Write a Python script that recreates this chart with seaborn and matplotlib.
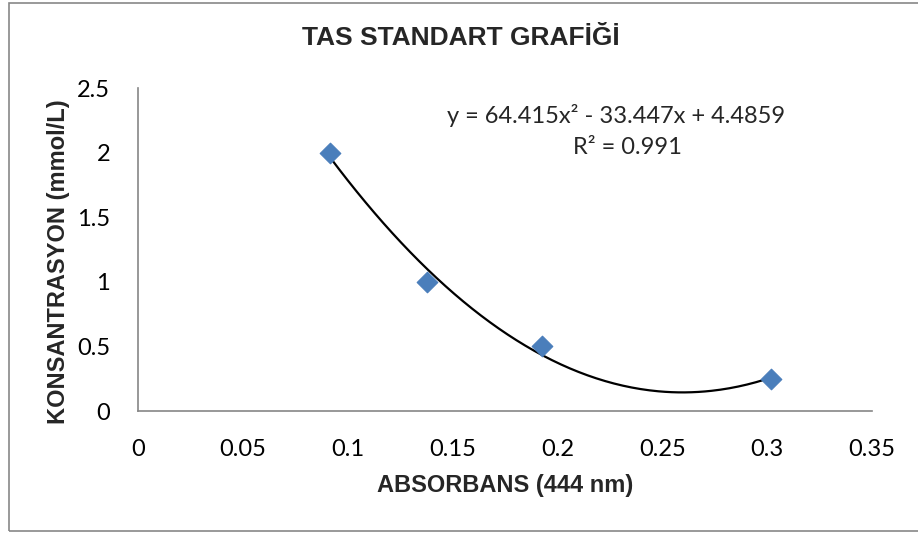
import numpy as np
import pandas as pd
import matplotlib.pyplot as plt
import seaborn as sns
from matplotlib.patches import Rectangle

# data
absorbance = [0.0916, 0.138, 0.1926, 0.302]
concentration = [2.0, 1.0, 0.5, 0.25]
coefs = [64.415, -33.447, 4.4859]  # trendline from the chart's equation
x_ticks = [0, 0.05, 0.1, 0.15, 0.2, 0.25, 0.3, 0.35]
y_ticks = [0, 0.5, 1, 1.5, 2, 2.5]
x_tick_labels = ['0', '0.05', '0.1', '0.15', '0.2', '0.25', '0.3', '0.35']
y_tick_labels = ['0', '0.5', '1', '1.5', '2', '2.5']

df = pd.DataFrame({'absorbans': absorbance, 'konsantrasyon': concentration})
xs = np.linspace(min(absorbance), max(absorbance), 200)
fit_df = pd.DataFrame({'x': xs, 'y': np.polyval(coefs, xs)})

sns.set_style('white')
plt.rcParams['font.family'] = ['Lato', 'DejaVu Sans']

fig = plt.figure(figsize=(9.18, 5.34), dpi=100)
ax = fig.add_axes([0.1503, 0.2303, 0.7997, 0.6049])

# outer chart border (right edge runs off the picture)
fig.patches.append(Rectangle((9 / 918, 3 / 534), 912 / 918, 528 / 534, transform=fig.transFigure,
                             fill=False, edgecolor='#878787', linewidth=1.2))

sns.lineplot(data=fit_df, x='x', y='y', color='black', linewidth=1.6, ax=ax)
sns.scatterplot(data=df, x='absorbans', y='konsantrasyon', marker='D', s=110,
                color='#4A7EBB', edgecolor='#4A7EBB', ax=ax, zorder=3)

ax.set_xlim(0, 0.35)
ax.set_ylim(0, 2.5)
ax.set_xticks(x_ticks)
ax.set_xticklabels(x_tick_labels)
ax.set_yticks(y_ticks)
ax.set_yticklabels(y_tick_labels)
ax.tick_params(axis='x', length=0, labelsize=17, colors='black', pad=20)
ax.tick_params(axis='y', length=0, labelsize=17, colors='black', pad=20)

for side in ['top', 'right']:
    ax.spines[side].set_visible(False)
for side in ['left', 'bottom']:
    ax.spines[side].set_color('#868686')
    ax.spines[side].set_linewidth(1.2)

ax.set_xlabel('ABSORBANS (444 nm)', fontsize=17, fontweight='bold', family='Liberation Sans', labelpad=10)
ax.set_ylabel('')
fig.text(0.0632, 0.5094, 'KONSANTRASYON (mmol/L)', rotation=90, ha='center', va='center',
         fontsize=17, fontweight='bold', family='Liberation Sans')

fig.text(0.5016, 0.929, 'TAS STANDART GRAFİĞİ', ha='center', va='center', fontsize=19,
         fontweight='bold', family='Liberation Sans')
ax.text(0.2279, 2.291, 'y = 64.415x² - 33.447x + 4.4859', ha='center', va='center', fontsize=17)
ax.text(0.2332, 2.036, 'R² = 0.991', ha='center', va='center', fontsize=17)

fig.savefig('out.png', dpi=100)
